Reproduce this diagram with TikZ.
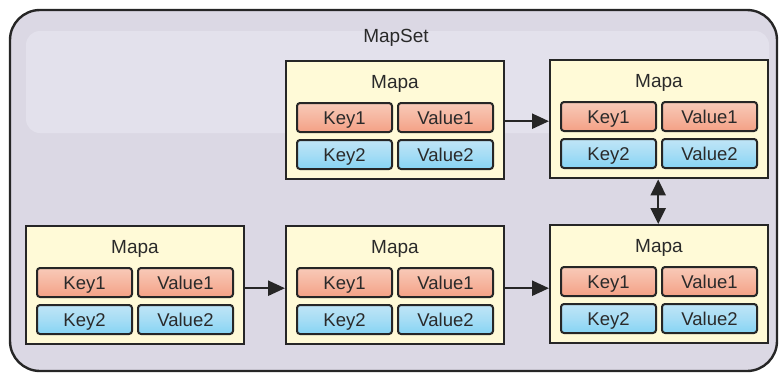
\documentclass[tikz,border=0pt]{standalone}
\usepackage{fontspec}
\setmainfont{Liberation Sans}
\usetikzlibrary{arrows.meta,calc}
\definecolor{bg}{HTML}{DBD8E4}
\definecolor{band}{HTML}{E3E1EC}
\definecolor{boxfill}{HTML}{FFFAD7}
\definecolor{boxline}{HTML}{262626}
\definecolor{redtop}{HTML}{F8CAB8}
\definecolor{redmid}{HTML}{F6B6A0}
\definecolor{redbot}{HTML}{F4A085}
\definecolor{bluetop}{HTML}{C0E5F6}
\definecolor{bluemid}{HTML}{A6DDF5}
\definecolor{bluebot}{HTML}{86D4F4}
\definecolor{textc}{HTML}{2A2A2A}
\tikzset{
  mapbox/.style={draw=boxline, line width=2.4pt, fill=boxfill, minimum width=218pt, minimum height=118pt, anchor=north west, inner sep=0pt},
  cellbox/.style={draw=boxline, line width=2pt, rounded corners=3pt, minimum width=95pt, minimum height=29pt, anchor=north west, inner sep=0pt, text height=13pt, text depth=0pt, font=\fontsize{18.5}{18.5}\selectfont, text=textc},
  redcell/.style={cellbox, top color=redtop, bottom color=redbot, middle color=redmid},
  bluecell/.style={cellbox, top color=bluetop, bottom color=bluebot, middle color=bluemid},
  maplabel/.style={anchor=base, font=\fontsize{19}{19}\selectfont, text=textc, inner sep=0pt},
  arr/.style={line width=2.4pt, draw=boxline, -{Triangle[length=17pt,width=15pt]}},
  darr/.style={line width=2.4pt, draw=boxline, {Triangle[length=16pt,width=15pt]}-{Triangle[length=16pt,width=15pt]}}
}
\newcommand{\mapunit}[3]{%
  \node[mapbox] (#1) at (#2,#3) {};
  \node[maplabel] (#1-t) at (#2+110,#3+28) {Mapa};
  \node[redcell] (#1-k1) at (#2+11,#3+42) {Key1};
  \node[redcell] (#1-v1) at (#2+112,#3+42) {Value1};
  \node[bluecell] (#1-k2) at (#2+11,#3+79) {Key2};
  \node[bluecell] (#1-v2) at (#2+112,#3+79) {Value2};
}
\begin{document}
\begin{tikzpicture}[x=1pt,y=-1pt]
\useasboundingbox (0,0) rectangle (780,373);
\draw[line width=2.4pt, draw=boxline, fill=bg, rounded corners=30pt] (10,10) rectangle (777,371);
\fill[band, rounded corners=14pt] (26,31) rectangle (769,133);
\node[maplabel] (ms) at (396,42) {MapSet};
\mapunit{A}{25}{225}
\mapunit{B}{285}{225}
\mapunit{C}{549}{224}
\mapunit{D}{285}{60}
\mapunit{E}{549}{59}
\draw[arr] ([yshift=-1pt]D.east) -- ([yshift=-1pt]D.east -| E.west);
\draw[arr] ([yshift=-3pt]A.east) -- ([yshift=-3pt]A.east -| B.west);
\draw[arr] ([yshift=-3pt]B.east) -- ([yshift=-3pt]B.east -| C.west);
\draw[darr] ([xshift=-1pt]E.south) -- ([xshift=-1pt]E.south |- C.north);
\end{tikzpicture}
\end{document}
